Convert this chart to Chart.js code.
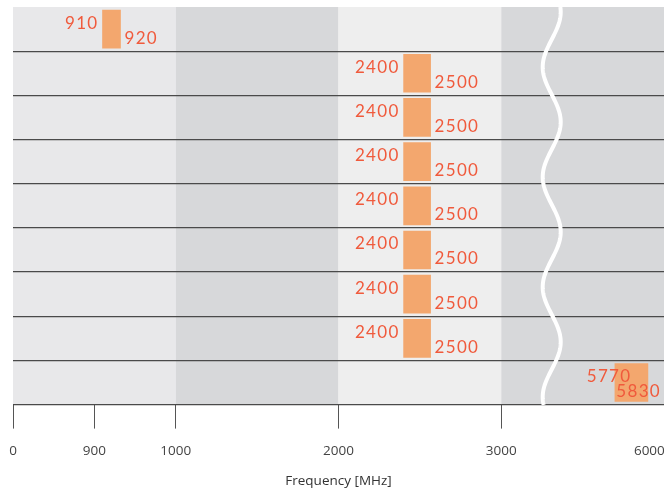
<!DOCTYPE html>
<html>
<head>
<meta charset="utf-8">
<script src="https://cdn.jsdelivr.net/npm/chart.js@4/dist/chart.umd.min.js"></script>
<style>
  body { margin: 0; background: #fff; }
  #wrap { width: 665px; height: 492px; }
</style>
</head>
<body>
<div id="wrap"><canvas id="chart" width="665" height="492"></canvas></div>
<script>
// rows of the diagram (no visible labels)
const rows = ['1', '2', '3', '4', '5', '6', '7', '8', '9'];
// band of each row: 0 = 900 MHz, 1 = 2.4 GHz, 2 = 5.8 GHz
const rowBand = [0, 1, 1, 1, 1, 1, 1, 1, 2];
const startFreq = [910, 2400, 2400, 2400, 2400, 2400, 2400, 2400, 5770];
const endFreq = [920, 2500, 2500, 2500, 2500, 2500, 2500, 2500, 5830];
const bandNames = ['900 MHz', '2.4 GHz', '5.8 GHz'];

// axis tick labels (MHz)
const tickFreqs = [0, 900, 1000, 2000, 3000, 6000];

// broken axis: frequency -> axis position
const knotFreq = [0, 900, 1000, 2000, 3000, 5500, 6000];
const knotPos = [0, 1, 2, 4, 6, 6.9, 7.82];
const breakPos = 6.62;
const bandEdgeFreqs = [0, 1000, 2000, 3000];
const bandColors = ['#e8e8ea', '#d7d8da', '#eeeeee', '#d7d8da'];
const minLen = [18, 27, 33];

const barColor = '#f3a76e';
const labelColor = '#f05a3c';

function toPos(f) {
  for (let i = 1; i < knotFreq.length; i++) {
    if (f <= knotFreq[i]) {
      const t = (f - knotFreq[i - 1]) / (knotFreq[i] - knotFreq[i - 1]);
      return knotPos[i - 1] + t * (knotPos[i] - knotPos[i - 1]);
    }
  }
  return knotPos[knotPos.length - 1];
}

let datasets = bandNames.map(function (name, b) {
  return {
    label: name,
    data: rows.map((r, i) => rowBand[i] === b ? [toPos(startFreq[i]), toPos(endFreq[i])] : null),
    backgroundColor: barColor,
    borderWidth: 0,
    grouped: false,
    barThickness: 38,
    minBarLength: minLen[b]
  };
});

const bands = {
  id: 'bands',
  beforeDraw(chart) {
    const { ctx, chartArea: a, scales: { x } } = chart;
    const edges = bandEdgeFreqs.map(f => x.getPixelForValue(toPos(f)));
    edges.push(a.right);
    ctx.save();
    for (let i = 0; i < edges.length - 1; i++) {
      ctx.fillStyle = bandColors[i];
      ctx.fillRect(edges[i], a.top, edges[i + 1] - edges[i], a.bottom - a.top);
    }
    ctx.restore();
  }
};

const axisBreak = {
  id: 'axisBreak',
  beforeDatasetsDraw(chart) {
    const { ctx, chartArea: a, scales: { x } } = chart;
    const cx = x.getPixelForValue(breakPos);
    ctx.save();
    ctx.beginPath();
    ctx.rect(a.left, a.top, a.right - a.left, a.bottom - a.top + 1);
    ctx.clip();
    ctx.beginPath();
    for (let y = a.top; y <= a.bottom + 1; y++) {
      const px = cx + 9 * Math.cos(2 * Math.PI * (y - a.top - 5) / 110);
      if (y === a.top) ctx.moveTo(px, y); else ctx.lineTo(px, y);
    }
    ctx.strokeStyle = '#ffffff';
    ctx.lineWidth = 4;
    ctx.stroke();
    ctx.restore();
  }
};

const freqLabels = {
  id: 'freqLabels',
  afterDatasetsDraw(chart) {
    const { ctx, chartArea } = chart;
    ctx.save();
    ctx.font = '17px Lato';
    ctx.letterSpacing = '1.3px';
    ctx.fillStyle = labelColor;
    ctx.textBaseline = 'middle';
    chart.data.datasets.forEach(function (ds, di) {
      const meta = chart.getDatasetMeta(di);
      meta.data.forEach(function (bar, i) {
        if (ds.data[i] == null) return;
        const left = Math.min(bar.base, bar.x);
        const right = Math.max(bar.base, bar.x);
        const top = bar.y - bar.height / 2;
        const bottom = bar.y + bar.height / 2;
        const endText = String(endFreq[i]);
        const w = ctx.measureText(endText).width;
        let endX = right + 4;
        let startX = left - 4;
        if (endX + w > chartArea.right - 3) {
          endX = chartArea.right - 3 - w;
          startX = (left + right) / 2;
        }
        ctx.textAlign = 'right';
        ctx.fillText(String(startFreq[i]), startX, top + 13);
        ctx.textAlign = 'left';
        ctx.fillText(endText, endX, bottom - 10);
      });
    });
    ctx.restore();
  }
};

Chart.defaults.font.family = "'Open Sans', sans-serif";

new Chart(document.getElementById('chart'), {
  type: 'bar',
  data: { labels: rows, datasets: datasets },
  plugins: [bands, axisBreak, freqLabels],
  options: {
    indexAxis: 'y',
    responsive: false,
    animation: false,
    layout: { padding: { left: 13, right: 1, top: 7, bottom: 0 } },
    plugins: { legend: { display: false }, tooltip: { enabled: false } },
    scales: {
      x: {
        type: 'linear',
        min: 0,
        max: 8,
        afterBuildTicks: function (scale) {
          scale.ticks = tickFreqs.map(f => ({ value: toPos(f) }));
        },
        afterFit: function (scale) {
          scale.paddingLeft = 0;
          scale.paddingRight = 0;
        },
        grid: {
          drawOnChartArea: false,
          drawTicks: true,
          tickLength: 24,
          tickWidth: 1,
          tickColor: ctx => ctx.index === tickFreqs.length - 1 ? 'rgba(0,0,0,0)' : '#555555'
        },
        border: { display: false },
        ticks: {
          autoSkip: false,
          maxRotation: 0,
          padding: 14,
          color: '#444444',
          font: { size: 13.5 },
          callback: (v, i) => String(tickFreqs[i])
        },
        title: {
          display: true,
          text: 'Frequency [MHz]',
          color: '#333333',
          font: { size: 13.5 },
          padding: { top: 0, bottom: 3 }
        }
      },
      y: {
        type: 'category',
        ticks: { display: false },
        border: { display: false },
        grid: {
          drawTicks: false,
          lineWidth: 1.3,
          color: ctx => ctx.index === 0 ? 'rgba(0,0,0,0)' : '#4a4a4a'
        }
      }
    }
  }
});
</script>
</body>
</html>
